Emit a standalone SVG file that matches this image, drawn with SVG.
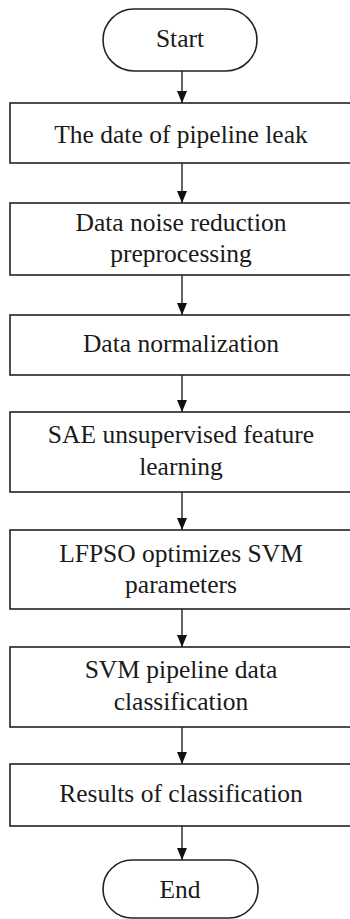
<svg xmlns="http://www.w3.org/2000/svg" width="350" height="919" viewBox="0 0 350 919">
<defs>
<style>
.box{fill:#fff;stroke:#222;stroke-width:1.6}
.t{font-family:"Liberation Serif","Times New Roman",serif;font-size:25.5px;fill:#1a1a1a;text-anchor:middle}
.c{stroke:#222;stroke-width:1.4;fill:none}
</style>
<marker id="ah" viewBox="0 0 12 10" refX="12" refY="5" markerWidth="12" markerHeight="10" markerUnits="userSpaceOnUse" orient="auto">
<path d="M0,0 L12,5 L0,10 Z" fill="#111"/>
</marker>
</defs>
<rect width="350" height="919" fill="#fff"/>
<g id="connectors">
<line class="c" x1="182" y1="71" x2="182" y2="103" marker-end="url(#ah)"/>
<line class="c" x1="182" y1="163" x2="182" y2="203" marker-end="url(#ah)"/>
<line class="c" x1="182" y1="275" x2="182" y2="315" marker-end="url(#ah)"/>
<line class="c" x1="182" y1="375" x2="182" y2="412" marker-end="url(#ah)"/>
<line class="c" x1="182" y1="492" x2="182" y2="530" marker-end="url(#ah)"/>
<line class="c" x1="182" y1="609" x2="182" y2="647" marker-end="url(#ah)"/>
<line class="c" x1="182" y1="727" x2="182" y2="764" marker-end="url(#ah)"/>
<line class="c" x1="182" y1="826" x2="182" y2="860" marker-end="url(#ah)"/>
</g>
<g id="start">
<rect class="box" x="103" y="9" width="154" height="62" rx="31" ry="31"/>
<text class="t" x="180" y="47">Start</text>
</g>
<g id="n1">
<rect class="box" x="10" y="103" width="345" height="60"/>
<text class="t" x="181" y="143">The date of pipeline leak</text>
</g>
<g id="n2">
<rect class="box" x="10" y="203" width="345" height="72"/>
<text class="t" x="181" y="231">Data noise reduction</text>
<text class="t" x="181" y="262">preprocessing</text>
</g>
<g id="n3">
<rect class="box" x="10" y="315" width="345" height="60"/>
<text class="t" x="181" y="352">Data normalization</text>
</g>
<g id="n4">
<rect class="box" x="10" y="412" width="345" height="80"/>
<text class="t" x="181" y="443">SAE unsupervised feature</text>
<text class="t" x="181" y="475">learning</text>
</g>
<g id="n5">
<rect class="box" x="10" y="530" width="345" height="79"/>
<text class="t" x="181" y="562">LFPSO optimizes SVM</text>
<text class="t" x="181" y="593">parameters</text>
</g>
<g id="n6">
<rect class="box" x="10" y="647" width="345" height="80"/>
<text class="t" x="181" y="678">SVM pipeline data</text>
<text class="t" x="181" y="710">classification</text>
</g>
<g id="n7">
<rect class="box" x="10" y="764" width="345" height="62"/>
<text class="t" x="181" y="802">Results of classification</text>
</g>
<g id="end">
<rect class="box" x="103" y="860" width="155" height="58" rx="29" ry="29"/>
<text class="t" x="180" y="898">End</text>
</g>
</svg>
